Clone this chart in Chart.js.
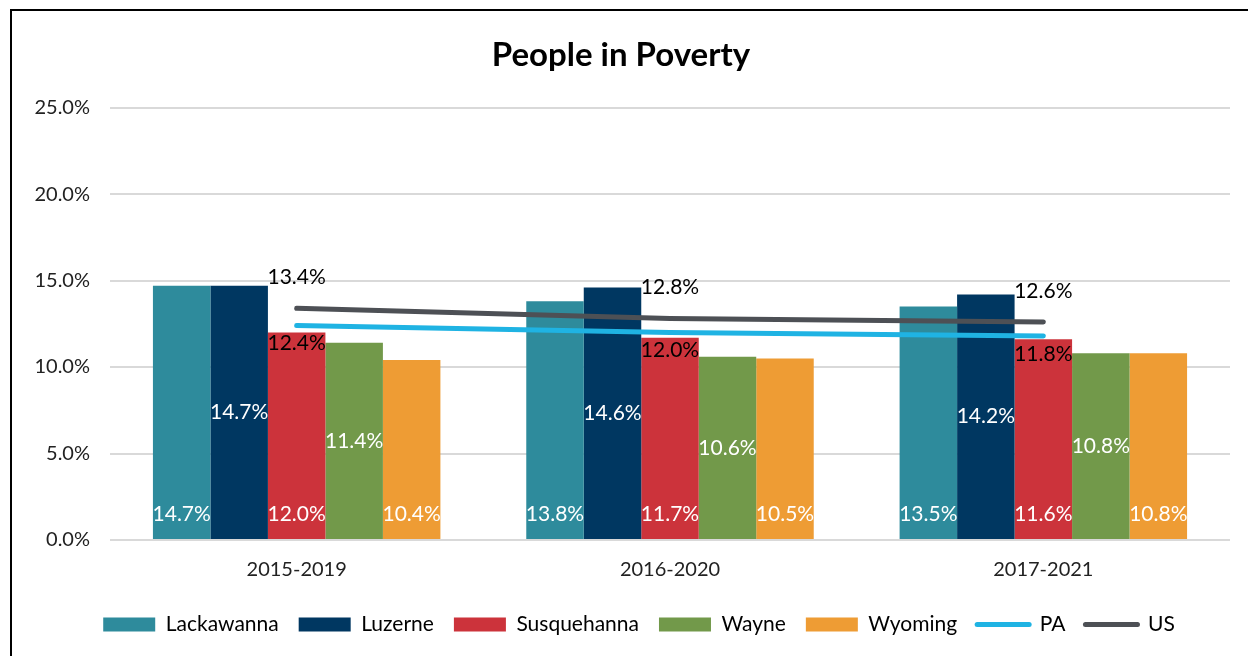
<!DOCTYPE html>
<html>
<head>
<meta charset="utf-8">
<title>People in Poverty</title>
<script src="https://cdn.jsdelivr.net/npm/chart.js@4.4.0/dist/chart.umd.min.js"></script>
<style>
html, body { margin: 0; padding: 0; background: #fff; overflow: hidden; }
#frame {
    position: absolute; left: 10px; top: 9px;
    width: 1236px; height: 645px;
    border-left: 2px solid #000; border-top: 2px solid #000;
}
#frame canvas { display: block; }
</style>
</head>
<body>
<div id="frame"><canvas id="povertyChart" width="1236" height="645"></canvas></div>
<script>
// ----- DATA -----
const categories = ["2015-2019", "2016-2020", "2017-2021"];
const lackawanna = [14.7, 13.8, 13.5];
const luzerne = [14.7, 14.6, 14.2];
const susquehanna = [12.0, 11.7, 11.6];
const wayne = [11.4, 10.6, 10.8];
const wyoming = [10.4, 10.5, 10.8];
const paRate = [12.4, 12.0, 11.8];
const usRate = [13.4, 12.8, 12.6];
const yTicks = [0, 5, 10, 15, 20, 25];

const FONT = "Lato, 'Open Sans', sans-serif";

// ----- VALUE LABELS (no datalabels plugin available) -----
const valueLabels = {
    id: "valueLabels",
    afterDatasetsDraw(chart) {
        const ctx = chart.ctx;
        ctx.save();
        ctx.font = "21px " + FONT;
        ctx.textAlign = "center";
        ctx.textBaseline = "middle";
        chart.data.datasets.forEach((ds, i) => {
            const meta = chart.getDatasetMeta(i);
            meta.data.forEach((el, j) => {
                const txt = ds.data[j].toFixed(1) + "%";
                let y;
                if (ds.labelPos === "base") y = el.base - 25;
                else if (ds.labelPos === "center") y = (el.y + el.base) / 2;
                else if (ds.labelPos === "above") y = el.y - 31;
                else y = el.y + 18;
                ctx.fillStyle = ds.type === "line" ? "#000" : "#fff";
                ctx.fillText(txt, el.x, y);
            });
        });
        ctx.restore();
    }
};

// nudge the legend a bit right and down, like the original
const legendShift = {
    id: "legendShift",
    afterLayout(chart) {
        chart.legend.left += 18;
        chart.legend.right += 18;
        chart.legend.top += 4;
        chart.legend.bottom += 4;
    }
};

function bar(label, data, color, pos) {
    return {
        type: "bar", label: label, data: data,
        backgroundColor: color, borderWidth: 0,
        categoryPercentage: 0.77, barPercentage: 1,
        labelPos: pos, order: 1
    };
}

function line(label, data, color, pos) {
    return {
        type: "line", label: label, data: data,
        borderColor: color, backgroundColor: color,
        borderWidth: 5, borderCapStyle: "round",
        pointRadius: 0, pointHoverRadius: 0, tension: 0, fill: false,
        labelPos: pos, order: 0
    };
}

const ctx = document.getElementById("povertyChart").getContext("2d");

new Chart(ctx, {
    data: {
        labels: categories,
        datasets: [
            bar("Lackawanna", lackawanna, "#2e8b9c", "base"),
            bar("Luzerne", luzerne, "#003761", "center"),
            bar("Susquehanna", susquehanna, "#cc333b", "base"),
            bar("Wayne", wayne, "#72994a", "center"),
            bar("Wyoming", wyoming, "#ee9c34", "base"),
            line("PA", paRate, "#1fb3e3", "below"),
            line("US", usRate, "#4d5055", "above")
        ]
    },
    options: {
        responsive: false,
        animation: false,
        devicePixelRatio: 1,
        layout: { padding: { left: 0, right: 18, top: 0, bottom: 15 } },
        plugins: {
            title: {
                display: true,
                text: "People in Poverty",
                color: "#000",
                font: { family: FONT, size: 33, weight: "bold" },
                padding: { top: 25, bottom: 32 }
            },
            legend: {
                position: "bottom",
                labels: {
                    color: "#000",
                    font: { family: FONT, size: 21 },
                    usePointStyle: true,
                    pointStyleWidth: 52,
                    boxHeight: 14,
                    padding: 20,
                    sort: (a, b) => a.datasetIndex - b.datasetIndex,
                    generateLabels(chart) {
                        return chart.data.datasets.map((ds, i) => ({
                            text: ds.label,
                            datasetIndex: i,
                            fillStyle: ds.type === "line" ? ds.borderColor : ds.backgroundColor,
                            strokeStyle: ds.type === "line" ? ds.borderColor : ds.backgroundColor,
                            lineWidth: ds.type === "line" ? 5 : 0,
                            lineCap: "round",
                            pointStyle: ds.type === "line" ? "line" : "rect",
                            fontColor: "#000",
                            hidden: false
                        }));
                    }
                }
            },
            tooltip: { enabled: false }
        },
        scales: {
            x: {
                grid: { display: false, drawTicks: false },
                border: { display: false },
                ticks: { color: "#222", font: { family: FONT, size: 20 }, padding: 18 },
                afterFit: scale => { scale.height = 50; }
            },
            y: {
                min: 0, max: 25,
                afterBuildTicks: scale => { scale.ticks = yTicks.map(v => ({ value: v })); },
                grid: { color: "#d9d9d9", lineWidth: 2, drawTicks: false },
                border: { display: false },
                ticks: {
                    color: "#222",
                    font: { family: FONT, size: 20 },
                    padding: 20,
                    callback: v => v.toFixed(1) + "%"
                },
                afterFit: scale => { scale.width = 98; }
            }
        }
    },
    plugins: [valueLabels, legendShift]
});
</script>
</body>
</html>
